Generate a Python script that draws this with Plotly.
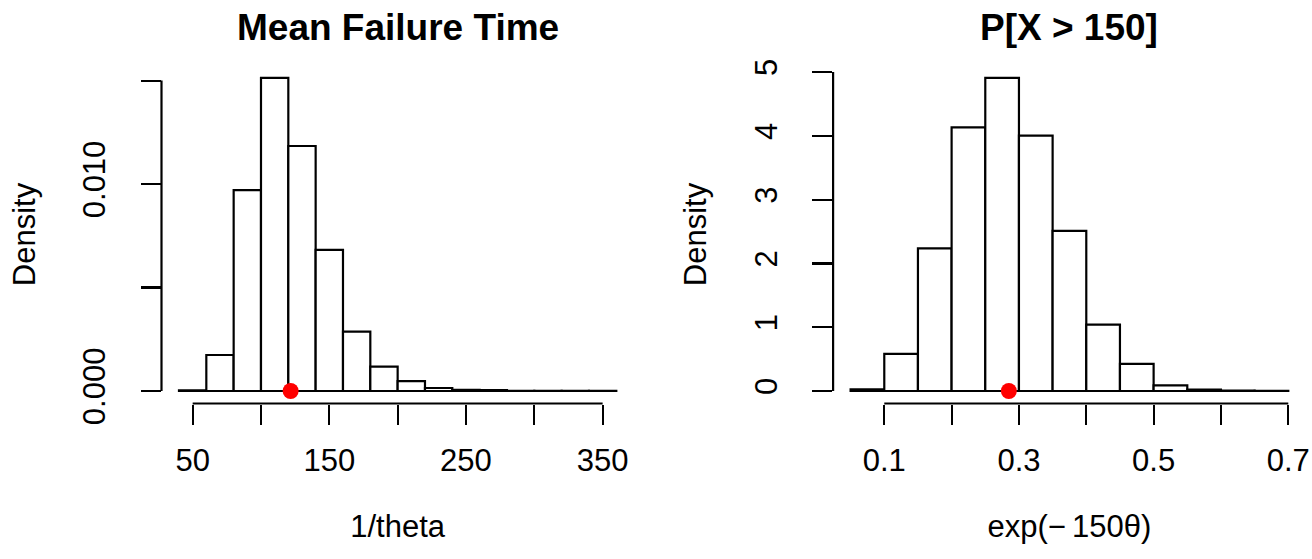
import plotly.graph_objects as go

FONT = "Liberation Sans, Arial, Helvetica, sans-serif"

# ---- data: left histogram (1/theta) ----
mean_bin_left = [40, 60, 80, 100, 120, 140, 160, 180, 200, 220, 240, 260, 280, 300, 320, 340]
mean_bin_width = 20
mean_density = [0.00003, 0.00174, 0.00971, 0.01513, 0.01184, 0.00682, 0.00287, 0.00118,
                0.00048, 0.000145, 0.00006, 0.00004, 0.00001, 0.000005, 0.000005, 0.000003]
mean_point = [121.7]

# ---- data: right histogram (exp(-150 theta)) ----
prob_bin_left = [0.05, 0.10, 0.15, 0.20, 0.25, 0.30, 0.35, 0.40, 0.45, 0.50, 0.55, 0.60, 0.65]
prob_bin_width = 0.05
prob_density = [0.026, 0.581, 2.235, 4.134, 4.909, 4.003, 2.512, 1.041, 0.424, 0.089, 0.021, 0.005, 0.002]
prob_point = [0.285]

# ticks
mean_xticks = [50, 100, 150, 200, 250, 300, 350]
mean_xtext = ["50", "", "150", "", "250", "", "350"]
mean_yticks = [0.0, 0.005, 0.010, 0.015]
mean_ytext = ["0.000", "", "0.010", ""]
prob_xticks = [0.1, 0.2, 0.3, 0.4, 0.5, 0.6, 0.7]
prob_xtext = ["0.1", "", "0.3", "", "0.5", "", "0.7"]
prob_yticks = [0, 1, 2, 3, 4, 5]
prob_ytext = ["0", "1", "2", "3", "4", "5"]

W, H = 1312, 559
OFF = 0  # body margin removed via post_script
LW = 2.2


def fx(px):
    return (px - OFF) / W


def fy(py):
    return 1 - (py - OFF) / H


fig = go.Figure()

fig.add_trace(go.Bar(
    x=[b + mean_bin_width / 2 for b in mean_bin_left], y=mean_density, width=mean_bin_width,
    marker=dict(color="white", line=dict(color="black", width=LW)),
    xaxis="x", yaxis="y", showlegend=False))
fig.add_trace(go.Scatter(
    x=mean_point, y=[0] * len(mean_point), mode="markers",
    marker=dict(color="red", size=16, line=dict(width=0)),
    xaxis="x", yaxis="y", showlegend=False, cliponaxis=False))

fig.add_trace(go.Bar(
    x=[b + prob_bin_width / 2 for b in prob_bin_left], y=prob_density, width=prob_bin_width,
    marker=dict(color="white", line=dict(color="black", width=LW)),
    xaxis="x2", yaxis="y2", showlegend=False))
fig.add_trace(go.Scatter(
    x=prob_point, y=[0] * len(prob_point), mode="markers",
    marker=dict(color="red", size=16, line=dict(width=0)),
    xaxis="x2", yaxis="y2", showlegend=False, cliponaxis=False))


def ext(lo, hi):
    d = (hi - lo) * 0.04
    return [lo - d, hi + d]


ydom = [fy(403.5), fy(65.4)]
dom1 = [fx(161.5), fx(633.8)]
dom2 = [fx(833.1), fx(1305.8)]

tickfont = dict(family=FONT, size=31, color="black")
common_x = dict(showgrid=False, zeroline=False, showline=False, ticks="outside", ticklen=20,
                tickwidth=LW, tickcolor="black", tickfont=tickfont, tickmode="array",
                ticklabelstandoff=9, fixedrange=True, automargin=False)
common_y = dict(showgrid=False, zeroline=False, showline=False, ticks="outside", ticklen=20,
                tickwidth=LW, tickcolor="black", tickfont=tickfont, tickmode="array",
                tickangle=-90, ticklabelstandoff=23, fixedrange=True, automargin=False)

fig.update_layout(
    width=W, height=H, autosize=False,
    margin=dict(l=0, r=0, t=0, b=0, pad=0),
    paper_bgcolor="white", plot_bgcolor="white",
    bargap=0,
    font=dict(family=FONT, color="black", size=31),
    xaxis=dict(domain=dom1, range=ext(mean_bin_left[0], mean_bin_left[-1] + mean_bin_width),
               tickvals=mean_xticks, ticktext=mean_xtext, anchor="y",
               title=dict(text="1/theta", font=dict(family=FONT, size=31), standoff=38),
               **common_x),
    yaxis=dict(domain=ydom, range=ext(0, max(mean_density)),
               tickvals=mean_yticks, ticktext=mean_ytext, anchor="x",
               title=dict(text="Density", font=dict(family=FONT, size=31), standoff=32),
               **common_y),
    xaxis2=dict(domain=dom2, range=ext(prob_bin_left[0], prob_bin_left[-1] + prob_bin_width),
                tickvals=prob_xticks, ticktext=prob_xtext, anchor="y2",
                title=dict(text="exp(\u2212\u2009150\u03b8)", font=dict(family=FONT, size=31), standoff=38),
                **common_x),
    yaxis2=dict(domain=ydom, range=ext(0, max(prob_density)),
                tickvals=prob_yticks, ticktext=prob_ytext, anchor="x2",
                title=dict(text="Density", font=dict(family=FONT, size=31), standoff=32),
                **common_y),
)

# R-style axis lines spanning first to last tick only
fig.add_shape(type="line", xref="x", yref="y domain", x0=mean_xticks[0], x1=mean_xticks[-1], y0=0, y1=0,
              line=dict(color="black", width=LW))
fig.add_shape(type="line", xref="x domain", yref="y", x0=0, x1=0, y0=mean_yticks[0], y1=mean_yticks[-1],
              line=dict(color="black", width=LW))
fig.add_shape(type="line", xref="x2", yref="y2 domain", x0=prob_xticks[0], x1=prob_xticks[-1], y0=0, y1=0,
              line=dict(color="black", width=LW))
fig.add_shape(type="line", xref="x2 domain", yref="y2", x0=0, x1=0, y0=prob_yticks[0], y1=prob_yticks[-1],
              line=dict(color="black", width=LW))

# main titles
for txt, dom in (("Mean Failure Time", dom1), ("P[X > 150]", dom2)):
    fig.add_annotation(text=f"<b>{txt}</b>", xref="paper", yref="paper",
                       x=(dom[0] + dom[1]) / 2, y=fy(28), xanchor="center", yanchor="middle",
                       showarrow=False, font=dict(family=FONT, size=37, color="black"))

fig.write_html("out.html",
               config={"displayModeBar": False, "staticPlot": True},
               post_script="document.body.style.margin='0';document.body.style.overflow='hidden';")
